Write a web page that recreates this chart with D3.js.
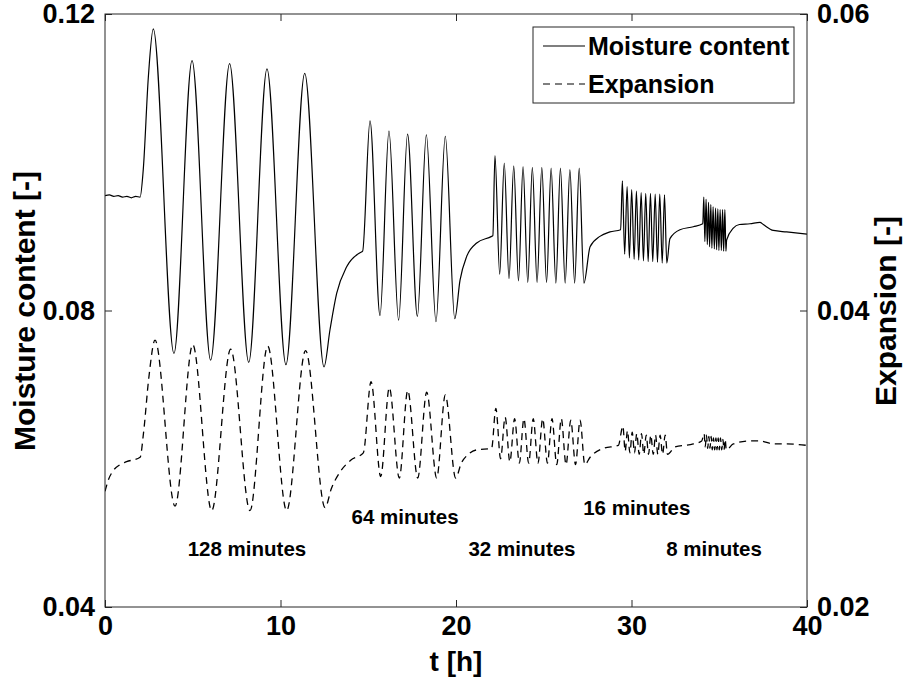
<!DOCTYPE html>
<html>
<head>
<meta charset="utf-8">
<script src="https://cdn.jsdelivr.net/npm/d3@7"></script>
<style>
  body { margin: 0; background: #fff; }
  svg text { font-family: "Liberation Sans", Arial, sans-serif; fill: #000; }
</style>
</head>
<body>
<svg id="chart" width="911" height="686"></svg>
<script>
// --- DATA ([t in h, value]) ---
const xTicks = [0, 10, 20, 30, 40];
const leftTicks = [0.04, 0.08, 0.12];
const rightTicks = [0.02, 0.04, 0.06];

// moisture content, left axis
const moistureStart = [[0,0.0955],[0.25,0.0956],[0.5,0.0954],[0.75,0.0955],[1.0,0.0953],[1.25,0.0954],[1.5,0.0952],[1.75,0.0954],[2.0,0.0953],[2.18,0.0990],[2.47,0.1115]];
const moisture128 = [[2.75,0.1180],[3.93,0.0742],[4.96,0.1137],[6.02,0.0733],[7.10,0.1133],[8.19,0.0730],[9.23,0.1126],[10.31,0.0727],[11.38,0.1120],[12.48,0.0724]];
const moistureRest128 = [[12.82,0.0774],[13.2,0.0823],[13.77,0.0859],[14.53,0.0878],[14.68,0.0880]];
const moisture64 = [[15.10,0.1056],[15.67,0.0793],[16.18,0.1042],[16.73,0.0787],[17.24,0.1038],[17.80,0.0792],[18.31,0.1037],[18.86,0.0785],[19.39,0.1035],[19.93,0.0789]];
const moistureRest64 = [[20.23,0.0841],[20.61,0.0873],[21.18,0.0891],[22.03,0.0900],[22.1,0.0901]];
const moisture32 = [[22.22,0.1009],[22.49,0.0849],[22.75,0.0999],[23.02,0.0843],[23.29,0.0995],[23.56,0.0840],[23.82,0.0994],[24.09,0.0838],[24.35,0.0993],[24.62,0.0838],[24.89,0.0993],[25.16,0.0838],[25.42,0.0992],[25.69,0.0837],[25.95,0.0992],[26.22,0.0837],[26.49,0.0990],[26.76,0.0837],[27.02,0.0992],[27.29,0.0837]];
const moistureRest32 = [[27.64,0.0886],[28.2,0.0900],[28.77,0.0906],[29.38,0.0909]];
const moisture16 = [[29.48,0.0975],[29.61,0.0876],[29.75,0.0967],[29.88,0.0871],[30.01,0.0963],[30.15,0.0869],[30.28,0.0961],[30.41,0.0868],[30.55,0.0959],[30.68,0.0867],[30.81,0.0958],[30.95,0.0866],[31.08,0.0958],[31.21,0.0866],[31.35,0.0957],[31.48,0.0865],[31.61,0.0957],[31.75,0.0864],[31.88,0.0956],[32.01,0.0864]];
const moistureRest16 = [[32.19,0.0897],[32.76,0.0909],[33.52,0.0913],[34.06,0.0917]];
const moisture8 = [[34.12,0.0953],[34.18,0.0893],[34.25,0.0950],[34.32,0.0889],[34.39,0.0946],[34.45,0.0886],[34.52,0.0943],[34.58,0.0884],[34.65,0.0940],[34.72,0.0883],[34.79,0.0938],[34.85,0.0882],[34.92,0.0937],[34.98,0.0881],[35.05,0.0936],[35.12,0.0881],[35.19,0.0936],[35.25,0.0880],[35.32,0.0936],[35.38,0.0880]];
const moistureEnd = [[35.42,0.0895],[35.80,0.0911],[36.15,0.0916],[36.75,0.0917],[37.32,0.0919],[37.51,0.0916],[38.08,0.0908],[38.84,0.0906],[40,0.0903]];

// expansion, right axis
const expansionStart = [[0,0.0278],[0.2,0.0286],[0.47,0.0292],[0.85,0.0296],[1.23,0.0298],[2.0,0.0301],[2.2,0.0318],[2.5,0.0355]];
const expansion128 = [[2.85,0.0380],[3.99,0.0268],[5.0,0.0377],[6.08,0.0265],[7.16,0.0374],[8.26,0.0265],[9.27,0.0376],[10.35,0.0265],[11.43,0.0373],[12.54,0.0267]];
const expansionRest128 = [[12.9,0.0280],[13.39,0.0291],[14.0,0.0299],[14.72,0.0304]];
const expansion64 = [[15.16,0.0352],[15.71,0.0288],[16.20,0.0348],[16.77,0.0287],[17.25,0.0346],[17.82,0.0287],[18.33,0.0345],[18.90,0.0287],[19.39,0.0343],[19.98,0.0287]];
const expansionRest64 = [[20.3,0.0297],[20.70,0.0303],[21.18,0.0306],[22.03,0.0307]];
const expansion32 = [[22.27,0.0334],[22.54,0.0300],[22.80,0.0328],[23.07,0.0298],[23.34,0.0327],[23.61,0.0297],[23.87,0.0327],[24.14,0.0297],[24.40,0.0327],[24.67,0.0297],[24.94,0.0327],[25.21,0.0297],[25.47,0.0327],[25.74,0.0296],[26.00,0.0327],[26.27,0.0296],[26.54,0.0326],[26.81,0.0296],[27.07,0.0326],[27.34,0.0296]];
const expansionRest32 = [[27.64,0.0301],[28.4,0.0307],[29.25,0.0309]];
const expansion16 = [[29.51,0.0322],[29.64,0.0305],[29.77,0.0319],[29.91,0.0304],[30.04,0.0318],[30.17,0.0304],[30.30,0.0317],[30.44,0.0303],[30.57,0.0317],[30.70,0.0303],[30.84,0.0316],[30.97,0.0303],[31.10,0.0316],[31.24,0.0303],[31.37,0.0316],[31.50,0.0303],[31.63,0.0316],[31.77,0.0303],[31.92,0.0316],[32.05,0.0303]];
const expansionRest16 = [[32.48,0.0308],[33.52,0.0310],[34.0,0.0312]];
const expansion8 = [[34.14,0.0317],[34.20,0.0308],[34.27,0.0316],[34.34,0.0307],[34.41,0.0315],[34.47,0.0307],[34.54,0.0315],[34.60,0.0306],[34.67,0.0314],[34.74,0.0306],[34.81,0.0314],[34.87,0.0306],[34.94,0.0314],[35.00,0.0306],[35.07,0.0314],[35.14,0.0306],[35.21,0.0313],[35.27,0.0306],[35.34,0.0313],[35.40,0.0306]];
const expansionEnd = [[35.80,0.0310],[36.75,0.0312],[37.32,0.0312],[38.08,0.0310],[38.84,0.0310],[40,0.0309]];

// cycle period annotations (t, left-axis value)
const periodLabels = ['128 minutes', '64 minutes', '32 minutes', '16 minutes', '8 minutes'];
const periodLabelT = [8.09, 17.1, 23.76, 30.3, 34.7];
const periodLabelV = [0.0478, 0.0521, 0.0478, 0.0534, 0.0478];

const seriesNames = ['Moisture content', 'Expansion'];

document.addEventListener('DOMContentLoaded', () => {
    const svg = d3.select('#chart');
    const axisColor = '#262626';

    const x = d3.scaleLinear().domain([0, 40]).range([105, 807]);
    const yL = d3.scaleLinear().domain([0.04, 0.12]).range([607, 14]);
    const yR = d3.scaleLinear().domain([0.02, 0.06]).range([607, 14]);

    const moisture = [].concat(moistureStart, moisture128, moistureRest128, moisture64, moistureRest64,
        moisture32, moistureRest32, moisture16, moistureRest16, moisture8, moistureEnd);
    const expansion = [].concat(expansionStart, expansion128, expansionRest128, expansion64, expansionRest64,
        expansion32, expansionRest32, expansion16, expansionRest16, expansion8, expansionEnd);

    svg.append('clipPath').attr('id', 'plot-clip')
        .append('rect').attr('x', 105).attr('y', 14).attr('width', 702).attr('height', 593);

    const lineL = d3.line().x(d => x(d[0])).y(d => yL(d[1])).curve(d3.curveMonotoneX);
    const lineR = d3.line().x(d => x(d[0])).y(d => yR(d[1])).curve(d3.curveMonotoneX);

    const plot = svg.append('g').attr('clip-path', 'url(#plot-clip)');
    plot.append('path').datum(moisture)
        .attr('d', lineL).attr('fill', 'none').attr('stroke', '#000').attr('stroke-width', 1.2);
    plot.append('path').datum(expansion)
        .attr('d', lineR).attr('fill', 'none').attr('stroke', '#000').attr('stroke-width', 1.3)
        .attr('stroke-dasharray', '7,5');

    // period annotations
    svg.selectAll('.period').data(periodLabels).join('text')
        .attr('class', 'period')
        .attr('x', (d, i) => x(periodLabelT[i]))
        .attr('y', (d, i) => yL(periodLabelV[i]))
        .attr('dy', '0.35em')
        .attr('text-anchor', 'middle')
        .style('font-size', '20.5px').style('font-weight', 'bold')
        .text(d => d);

    // axes (ticks inside, MATLAB style)
    const styleAxis = g => {
        g.select('.domain').remove();
        g.selectAll('.tick line').attr('stroke', axisColor);
        g.selectAll('.tick text').style('font-size', '27px').style('font-weight', 'bold').attr('fill', '#000');
    };
    svg.append('g').attr('transform', 'translate(0,607)')
        .call(d3.axisBottom(x).tickValues(xTicks).tickSize(-7).tickPadding(9))
        .call(styleAxis);
    svg.append('g').attr('transform', 'translate(0,14)')
        .call(d3.axisTop(x).tickValues(xTicks).tickSize(-7).tickFormat(''))
        .call(styleAxis);
    svg.append('g').attr('transform', 'translate(105,0)')
        .call(d3.axisLeft(yL).tickValues(leftTicks).tickFormat(d3.format('.2f')).tickSize(-7).tickPadding(10))
        .call(styleAxis);
    svg.append('g').attr('transform', 'translate(807,0)')
        .call(d3.axisRight(yR).tickValues(rightTicks).tickFormat(d3.format('.2f')).tickSize(-7).tickPadding(10))
        .call(styleAxis);

    svg.append('rect').attr('x', 105).attr('y', 14).attr('width', 702).attr('height', 593)
        .attr('fill', 'none').attr('stroke', axisColor).attr('stroke-width', 1);

    // axis labels
    svg.append('text').attr('x', 456).attr('y', 671).attr('text-anchor', 'middle')
        .style('font-size', '28px').style('font-weight', 'bold').text('t [h]');
    svg.append('text').attr('transform', 'translate(35,311) rotate(-90)').attr('text-anchor', 'middle')
        .style('font-size', '30px').style('font-weight', 'bold').text('Moisture content [-]');
    svg.append('text').attr('transform', 'translate(896,311) rotate(-90)').attr('text-anchor', 'middle')
        .style('font-size', '30px').style('font-weight', 'bold').text('Expansion [-]');

    // legend
    const legend = svg.append('g');
    legend.append('rect').attr('x', 533).attr('y', 27).attr('width', 261).attr('height', 76)
        .attr('fill', '#fff').attr('stroke', axisColor).attr('stroke-width', 1);
    const rows = legend.selectAll('.row').data(seriesNames).join('g')
        .attr('class', 'row')
        .attr('transform', (d, i) => `translate(0,${46 + i * 38})`);
    rows.append('line').attr('x1', 543).attr('x2', 585).attr('y1', 0).attr('y2', 0)
        .attr('stroke', '#000').attr('stroke-width', 1.2)
        .attr('stroke-dasharray', (d, i) => i === 0 ? null : '7,5');
    rows.append('text').attr('x', 588).attr('dy', '0.35em')
        .style('font-size', '25px').style('font-weight', 'bold').text(d => d);
});
</script>
</body>
</html>
